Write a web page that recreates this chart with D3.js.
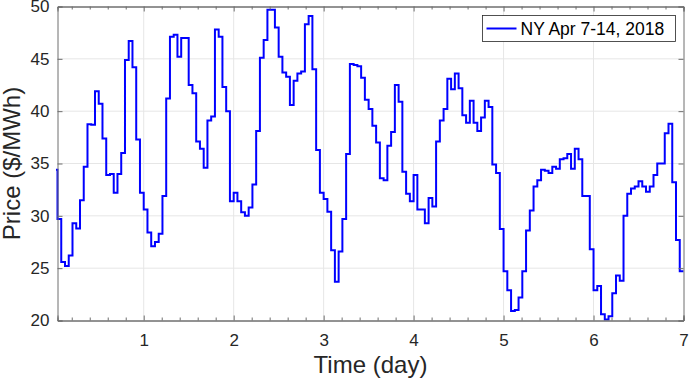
<!DOCTYPE html>
<html>
<head>
<meta charset="utf-8">
<script src="https://cdn.jsdelivr.net/npm/d3@7"></script>
<style>
  body { margin: 0; background: #fff; }
  svg { display: block; font-family: "Liberation Sans", Arial, sans-serif; }
</style>
</head>
<body>
<svg width="689" height="381"></svg>
<script>
// hourly prices ($/MWh), one array per day, hour 0 = start of Apr 7
const day1 = [34.4, 29.7, 25.6, 25.2, 26.2, 29.3, 28.8, 31.5, 34.7, 38.75, 38.7, 41.9,
              40.7, 37.4, 33.9, 34.0, 32.2, 34.0, 36.0, 44.9, 46.7, 44.2, 37.3, 32.2];
const day2 = [30.6, 28.4, 27.1, 27.5, 28.3, 31.9, 41.2, 47.1, 47.3, 45.2, 47.0, 47.0,
              42.5, 41.7, 37.1, 36.4, 34.6, 39.1, 39.5, 47.8, 47.1, 42.3, 40.0, 31.4];
const day3 = [32.2, 31.4, 30.35, 30.0, 30.8, 33.0, 38.1, 45.1, 46.8, 49.7, 49.7, 48.0,
              45.2, 43.7, 43.3, 40.6, 42.9, 43.6, 43.8, 48.3, 49.1, 44.0, 36.3, 32.2];
const day4 = [31.6, 30.4, 26.7, 23.7, 26.6, 29.7, 35.9, 44.5, 44.4, 44.3, 43.2, 41.1,
              40.2, 38.6, 37.0, 33.6, 33.4, 36.7, 38.0, 42.5, 40.9, 34.2, 32.1, 31.4];
const day5 = [33.9, 30.6, 30.6, 29.3, 31.7, 30.9, 37.1, 39.1, 40.2, 43.1, 42.1, 43.6,
              42.2, 39.6, 38.9, 41.0, 38.9, 38.1, 39.4, 41.0, 40.4, 34.9, 34.1, 28.75];
const day6 = [24.7, 22.9, 20.9, 21.0, 22.2, 24.7, 28.6, 30.5, 32.8, 33.4, 34.4, 34.3,
              34.1, 34.7, 34.5, 35.4, 35.5, 35.9, 34.5, 36.4, 35.4, 31.9, 31.9, 26.8];
const day7 = [22.9, 23.3, 20.6, 20.1, 20.4, 22.6, 24.3, 23.8, 30.0, 32.1, 32.6, 32.8,
              33.3, 32.8, 32.3, 32.8, 33.9, 35.0, 35.0, 37.9, 38.8, 33.2, 27.7, 24.7];

const xTicks = [1, 2, 3, 4, 5, 6, 7];
const yTicks = [20, 25, 30, 35, 40, 45, 50];
const seriesName = 'NY Apr 7-14, 2018';

const prices = [].concat(day1, day2, day3, day4, day5, day6, day7);
const data = prices.map((p, i) => ({t: i / 24, p: p}));
// stairs: hold the last value to the end of day 7
data.push({t: prices.length / 24, p: prices[prices.length - 1]});

const svg = d3.select('svg');
const margin = {top: 6.5, right: 5.5, bottom: 60.5, left: 57.5};
const width = 689, height = 381;
const innerWidth = width - margin.left - margin.right;
const innerHeight = height - margin.top - margin.bottom;

const x = d3.scaleLinear().domain([1 / 24, 7]).range([0, innerWidth]);
const y = d3.scaleLinear().domain([20, 50]).range([innerHeight, 0]);

const g = svg.append('g').attr('transform', `translate(${margin.left},${margin.top})`);

g.append('clipPath').attr('id', 'clip')
  .append('rect').attr('x', -1.5).attr('y', -1.5)
  .attr('width', innerWidth + 3).attr('height', innerHeight + 3);

// grid
g.append('g').selectAll('line').data(xTicks.slice(0, -1))
  .enter().append('line')
  .attr('x1', d => x(d)).attr('x2', d => x(d))
  .attr('y1', 0).attr('y2', innerHeight)
  .attr('stroke', '#e6e6e6');
g.append('g').selectAll('line').data(yTicks.slice(1, -1))
  .enter().append('line')
  .attr('y1', d => y(d)).attr('y2', d => y(d))
  .attr('x1', 0).attr('x2', innerWidth)
  .attr('stroke', '#e6e6e6');

// price line
const line = d3.line().curve(d3.curveStepAfter)
  .x(d => x(d.t))
  .y(d => y(d.p));
g.append('path').datum(data)
  .attr('clip-path', 'url(#clip)')
  .attr('d', line)
  .attr('fill', 'none')
  .attr('stroke', '#0000ff')
  .attr('stroke-width', 2);

// axes (box with ticks on all sides)
const minor = d3.range(1, 36).map(i => i / 5).filter(v => !xTicks.includes(v));
const axisColor = '#6e6e6e';
const axBottom = g.append('g').attr('transform', `translate(0,${innerHeight})`)
  .call(d3.axisBottom(x).tickValues(xTicks).tickSize(-5).tickPadding(13).tickFormat(d3.format('d')));
const axBottomMinor = g.append('g').attr('transform', `translate(0,${innerHeight})`)
  .call(d3.axisBottom(x).tickValues(minor).tickSize(-3).tickFormat(''));
const axTop = g.append('g')
  .call(d3.axisTop(x).tickValues(xTicks).tickSize(-5).tickFormat(''));
const axTopMinor = g.append('g')
  .call(d3.axisTop(x).tickValues(minor).tickSize(-3).tickFormat(''));
const axLeft = g.append('g')
  .call(d3.axisLeft(y).tickValues(yTicks).tickSize(-5).tickPadding(8));
const axRight = g.append('g').attr('transform', `translate(${innerWidth},0)`)
  .call(d3.axisRight(y).tickValues(yTicks).tickSize(-5).tickFormat(''));

[axBottom, axBottomMinor, axTop, axTopMinor, axLeft, axRight].forEach(a => {
  a.select('.domain').attr('stroke', axisColor);
  a.selectAll('.tick line').attr('stroke', axisColor);
  a.selectAll('text').filter(function () { return !this.textContent; }).remove();
  a.selectAll('text').attr('fill', '#262626').attr('font-size', 17)
    .attr('font-family', '"Liberation Sans", Arial, sans-serif');
});

// axis labels
svg.append('text')
  .attr('x', margin.left + innerWidth / 2).attr('y', 373)
  .attr('text-anchor', 'middle').attr('font-size', 24).attr('fill', '#262626')
  .text('Time (day)');
svg.append('text')
  .attr('transform', `translate(20,${margin.top + innerHeight / 2}) rotate(-90)`)
  .attr('text-anchor', 'middle').attr('font-size', 24).attr('fill', '#262626')
  .text('Price ($/MWh)');

// legend
const legend = svg.append('g').attr('transform', 'translate(482.5,15.5)');
legend.append('rect').attr('width', 193).attr('height', 26)
  .attr('fill', '#fff').attr('stroke', '#262626').attr('stroke-width', 0.8);
legend.append('line').attr('x1', 4).attr('x2', 34).attr('y1', 13).attr('y2', 13)
  .attr('stroke', '#0000ff').attr('stroke-width', 2);
legend.append('text').attr('x', 38).attr('y', 19.5)
  .attr('font-size', 17.5).attr('fill', '#000').text(seriesName);
</script>
</body>
</html>
